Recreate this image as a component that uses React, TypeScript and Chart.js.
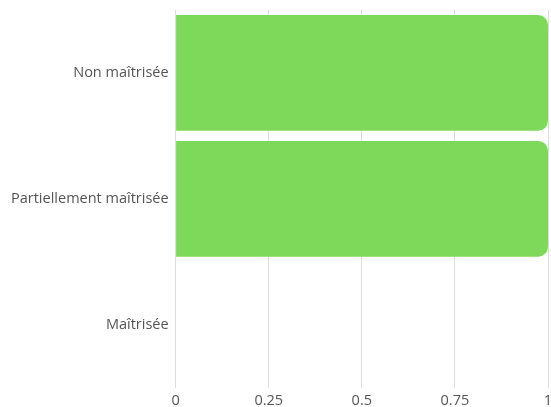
import React, { useEffect, useRef } from "react";
import { Chart, registerables } from "chart.js";

Chart.register(...registerables);

const categories = ["Non maîtrisée", "Partiellement maîtrisée", "Maîtrisée"];
const values = [1, 1, 0];
const xTicks = [0, 0.25, 0.5, 0.75, 1];

export default function App() {
  const ref = useRef<HTMLCanvasElement | null>(null);
  useEffect(() => {
    document.body.style.margin = "0";
    const ctx = ref.current!;
    const chart = new Chart(ctx, {
      type: "bar",
      data: {
        labels: categories,
        datasets: [
          {
            data: values,
            backgroundColor: "#7ed95a",
            borderRadius: 10,
            borderSkipped: "start",
            categoryPercentage: 1,
            barPercentage: 0.92,
          },
        ],
      },
      options: {
        indexAxis: "y",
        animation: false,
        responsive: false,
        maintainAspectRatio: false,
        layout: { padding: { top: 0, right: 0, left: 4, bottom: -8 } },
        plugins: { legend: { display: false }, tooltip: { enabled: false } },
        scales: {
          x: {
            min: 0,
            max: 1,
            afterBuildTicks: (axis: any) => {
              axis.ticks = xTicks.map((v) => ({ value: v }));
            },
            afterFit: (s: any) => {
              s.paddingRight = 3;
            },
            grid: { color: "#dddddd", drawTicks: false },
            border: { display: false },
            ticks: {
              color: "#555",
              padding: 5,
              font: { family: "'Open Sans'", size: 14.5 },
              callback: (v: any) => String(v),
            },
          },
          y: {
            afterFit: (s: any) => {
              s.paddingTop = 10;
              s.paddingBottom = 0;
            },
            grid: { display: false, drawTicks: false },
            border: { display: false },
            ticks: {
              color: "#555",
              padding: 7,
              font: { family: "'Open Sans'", size: 14.5 },
            },
          },
        },
      },
    });
    return () => chart.destroy();
  }, []);
  return (
    <div style={{ width: 551, height: 407 }}>
      <canvas ref={ref} width={551} height={407} style={{ display: "block" }} />
    </div>
  );
}
